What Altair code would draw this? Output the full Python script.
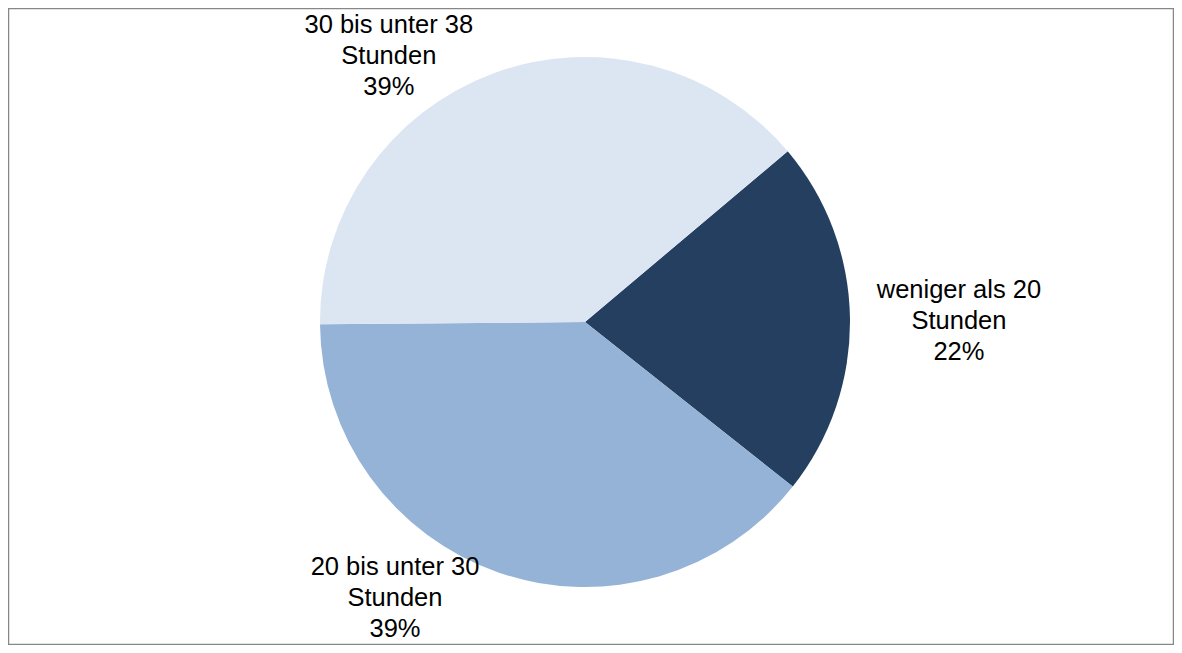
import math
import altair as alt
import pandas as pd

# ---- data ----
categories = ["weniger als 20 Stunden", "20 bis unter 30 Stunden", "30 bis unter 38 Stunden"]
shares = [21.8, 39.2, 39.0]
pct_labels = ["22%", "39%", "39%"]
colors = ["#253F60", "#95B3D7", "#DCE6F2"]

df = pd.DataFrame({
    "idx": list(range(len(categories))),
    "category": categories,
    "value": shares,
    "label": [c.replace(" Stunden", "\nStunden") + "\n" + p for c, p in zip(categories, pct_labels)],
})

start = math.radians(49.9)
theta_scale = alt.Scale(domain=[0, sum(shares)], range=[start, start + 2 * math.pi])
cx, cy = 577, 314
font = "Liberation Sans"

arcs = alt.Chart(df).mark_arc(outerRadius=265, strokeWidth=0).encode(
    theta=alt.Theta("value:Q", stack=True, scale=theta_scale),
    color=alt.Color("category:N", scale=alt.Scale(domain=categories, range=colors), legend=None),
    order=alt.Order("idx:Q"),
    x=alt.value(cx),
    y=alt.value(cy),
)

base = alt.Chart(df).transform_window(
    cum="sum(value)", sort=[alt.SortField("idx")], frame=[None, 0]
).transform_calculate(mid="datum.cum - datum.value / 2")

# label placement (radius, dx, dy) per slice, like the spreadsheet's best-fit labels
placements = {0: (375, -1, -26), 1: (302, -92, -41), 2: (283, -98, -32)}

texts = []
for k, (r, dx, dy) in placements.items():
    texts.append(
        base.transform_filter(alt.datum.idx == k).mark_text(
            radius=r, dx=dx, dy=dy, fontSize=25.5, font=font, lineBreak="\n",
            lineHeight=31, align="center", baseline="middle", color="black",
        ).encode(
            theta=alt.Theta("mid:Q", stack=False, scale=theta_scale),
            text="label:N",
            x=alt.value(cx),
            y=alt.value(cy),
        )
    )

chart = alt.layer(arcs, *texts).properties(
    width=1166, height=637, padding=0, autosize="none"
).configure_view(stroke="#878787", strokeWidth=2.5)

chart.save("out.html", embed_options={"renderer": "svg", "actions": False})
